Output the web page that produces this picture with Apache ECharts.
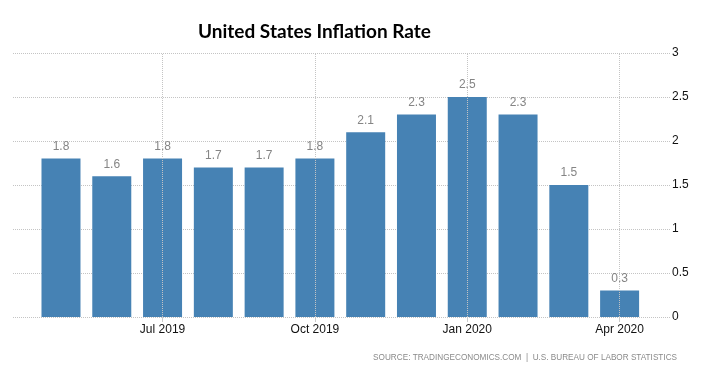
<!DOCTYPE html>
<html>
<head>
<meta charset="utf-8">
<script src="https://cdn.jsdelivr.net/npm/echarts@6/dist/echarts.min.js"></script>
<style>
html,body{margin:0;padding:0;background:#fff;}
#chart{width:715px;height:374px;}
</style>
</head>
<body>
<div id="chart"></div>
<script>
const categories = ['May 2019','Jun 2019','Jul 2019','Aug 2019','Sep 2019','Oct 2019','Nov 2019','Dec 2019','Jan 2020','Feb 2020','Mar 2020','Apr 2020'];
const values = [1.8, 1.6, 1.8, 1.7, 1.7, 1.8, 2.1, 2.3, 2.5, 2.3, 1.5, 0.3];
const tickLabels = ['Jul 2019','Oct 2019','Jan 2020','Apr 2020'];
const yTicks = [0, 0.5, 1, 1.5, 2, 2.5, 3];

const chart = echarts.init(document.getElementById('chart'));
const showTick = (i, v) => tickLabels.includes(categories[i]);
chart.setOption({
  backgroundColor: '#fff',
  animation: false,
  title: {
    text: 'United States Inflation Rate',
    left: 193, top: 17,
    textStyle: { fontFamily: 'Lato', fontWeight: 'bold', fontSize: 19, color: '#000' }
  },
  grid: [
    { left: 13, right: 45, top: 53, bottom: 57 },
    { left: 35.6, right: 70, top: 53, bottom: 57 }
  ],
  xAxis: [
    { gridIndex: 0, type: 'value', min: 0, max: 1, show: false },
    {
      gridIndex: 1, type: 'category', data: categories,
      axisLine: { show: false },
      axisTick: { show: true, alignWithLabel: true, interval: showTick, length: 5, lineStyle: { color: '#ccc' } },
      axisLabel: { interval: showTick, margin: 7, color: '#111', fontSize: 12, fontFamily: 'Liberation Sans' },
      splitLine: { show: false }
    }
  ],
  yAxis: [
    {
      gridIndex: 0, type: 'value', position: 'right', min: yTicks[0], max: yTicks[yTicks.length - 1], interval: 0.5,
      axisLine: { show: false }, axisTick: { show: false },
      axisLabel: { margin: 2, color: '#111', fontSize: 12, fontFamily: 'Liberation Sans' },
      splitLine: { show: true, lineStyle: { type: 'dotted', color: '#c4c4c4', width: 1 } }
    },
    { gridIndex: 1, type: 'value', min: 0, max: 3, show: false }
  ],
  series: [{
    type: 'bar',
    xAxisIndex: 1, yAxisIndex: 1,
    data: values,
    barWidth: 39,
    itemStyle: { color: '#4682B4' },
    label: {
      show: true, position: 'top', distance: 6,
      color: '#858585', fontSize: 12, fontFamily: 'Liberation Sans'
    },
    markLine: {
      silent: true, symbol: 'none', label: { show: false },
      lineStyle: { type: 'dotted', color: '#c4c4c4', width: 1 },
      data: tickLabels.map(t => ({ xAxis: t }))
    },
    z: 3
  }],
  graphic: [{
    type: 'text',
    right: 38, top: 354,
    style: {
      text: 'SOURCE: TRADINGECONOMICS.COM  |  U.S. BUREAU OF LABOR STATISTICS',
      fill: '#8a8a8a', font: '8.2px "Liberation Sans"'
    }
  }]
});
</script>
</body>
</html>
